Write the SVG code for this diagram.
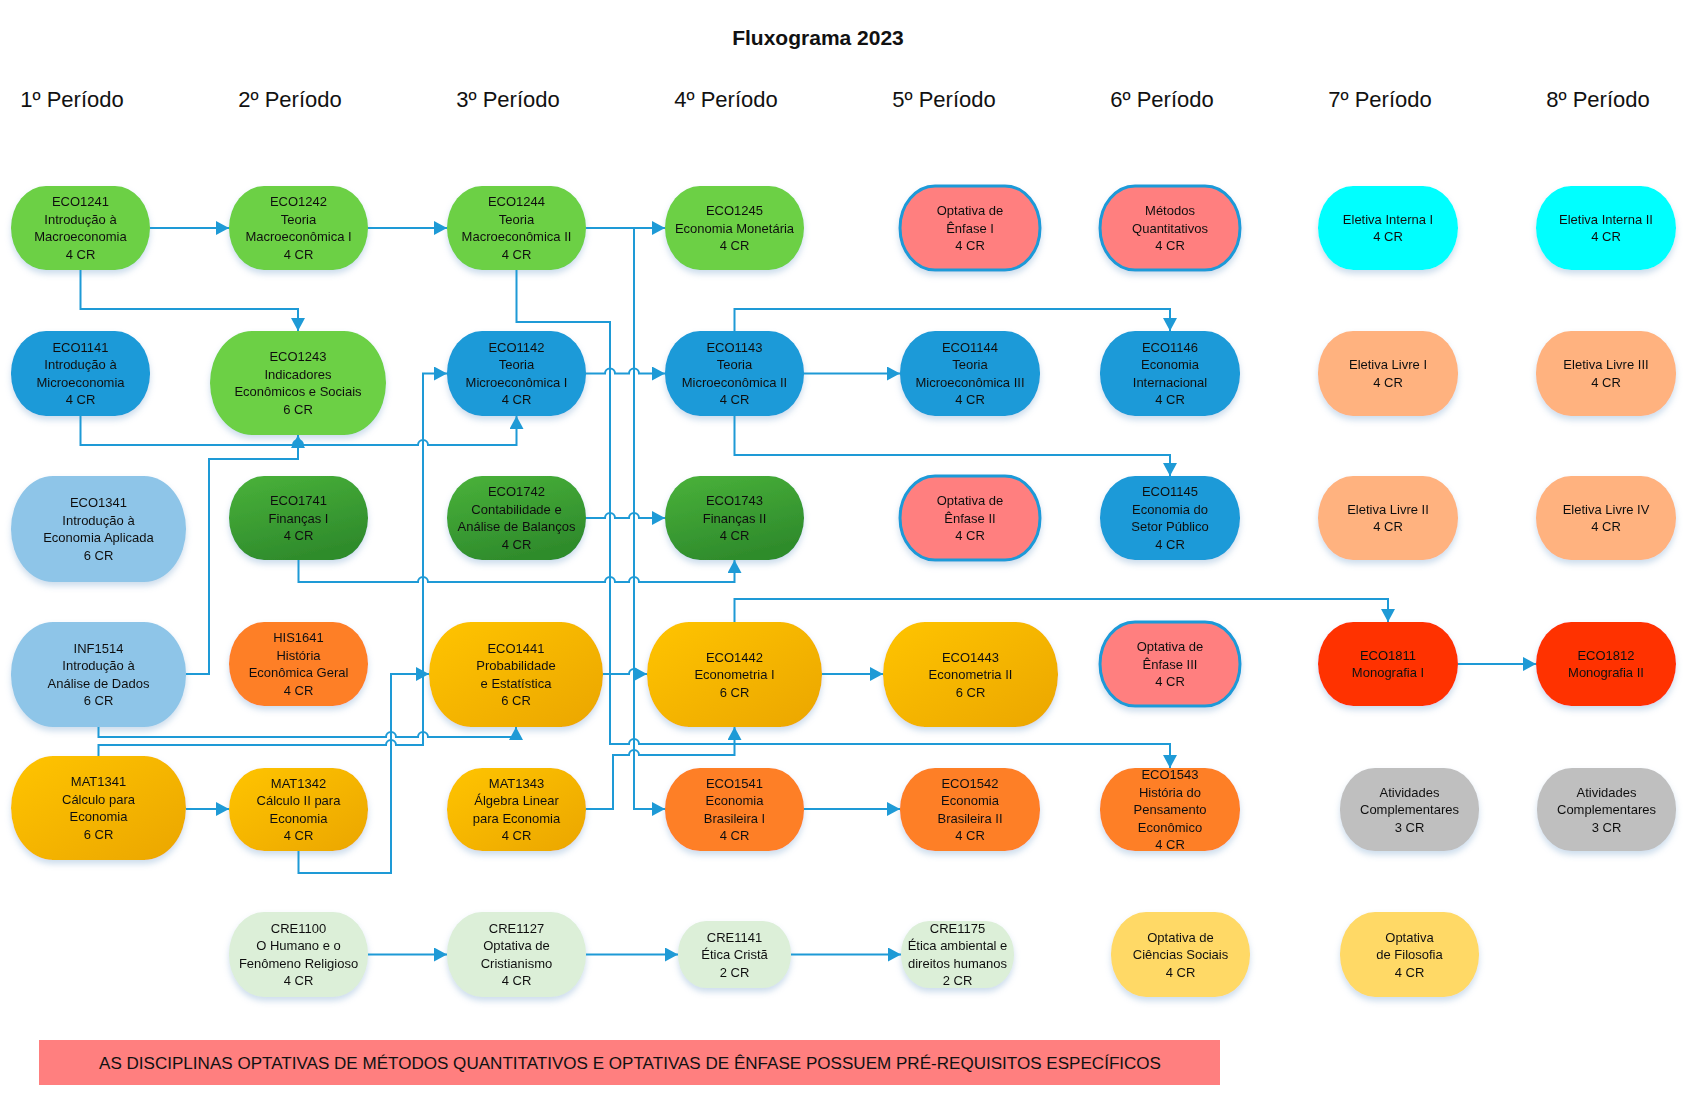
<svg xmlns="http://www.w3.org/2000/svg" width="1693" height="1109" viewBox="0 0 1693 1109">
<defs>
<style>
.t{font-family:"Liberation Sans",Arial,sans-serif;font-size:13px;text-anchor:middle;fill:#111}
.h{font-family:"Liberation Sans",Arial,sans-serif;font-size:22px;text-anchor:middle;fill:#111}
.ttl{font-family:"Liberation Sans",Arial,sans-serif;font-size:21px;font-weight:bold;text-anchor:middle;fill:#111}
.bn{font-family:"Liberation Sans",Arial,sans-serif;font-size:16px;text-anchor:middle;fill:#111}
.c{fill:none;stroke:#1E9AD6;stroke-width:2;marker-end:url(#ar)}
.cn{fill:none;stroke:#1E9AD6;stroke-width:2}
.nd{filter:url(#sh)}
.g1{fill:#6CD044}
.bl{fill:#1A9AD8}
.lb{fill:#8EC5E8}
.dg{fill:url(#gdg)}
.or{fill:#FE7F28}
.gd{fill:url(#ggd)}
.pk{fill:#FF7F7F;stroke:#1A9AD8;stroke-width:3}
.cy{fill:#00FFFF}
.pc{fill:#FFB27F}
.rd{fill:#FF3300}
.gy{fill:#BFBFBF}
.cr{fill:#DCEFD8}
.yl{fill:#FFD966}
</style>
<linearGradient id="ggd" x1="0" y1="0" x2="1" y2="1">
<stop offset="0" stop-color="#FFC400"/><stop offset="1" stop-color="#EBA600"/>
</linearGradient>
<linearGradient id="gdg" x1="0" y1="0" x2="0.4" y2="1">
<stop offset="0" stop-color="#4AB23A"/><stop offset="1" stop-color="#2F8C2C"/>
</linearGradient>
<filter id="sh" x="-20%" y="-20%" width="140%" height="160%">
<feDropShadow dx="0" dy="4" stdDeviation="3" flood-color="#8fb4d6" flood-opacity="0.45"/>
</filter>
<marker id="ar" markerWidth="14" markerHeight="14" refX="13" refY="7" orient="auto" markerUnits="userSpaceOnUse">
<path d="M0,0 L13,7 L0,14 z" fill="#1E9AD6"/>
</marker>
</defs>
<rect width="1693" height="1109" fill="#fff"/>

<text class="ttl" x="818" y="45">Fluxograma 2023</text>
<g id="headers">
<text class="h" x="72" y="107">1º Período</text>
<text class="h" x="290" y="107">2º Período</text>
<text class="h" x="508" y="107">3º Período</text>
<text class="h" x="726" y="107">4º Período</text>
<text class="h" x="944" y="107">5º Período</text>
<text class="h" x="1162" y="107">6º Período</text>
<text class="h" x="1380" y="107">7º Período</text>
<text class="h" x="1598" y="107">8º Período</text>
</g>

<g id="nodes">
<!-- Row 1 -->
<g id="ECO1241" class="nd"><rect class="g1" x="11" y="186" width="139" height="84" rx="35" ry="42"/>
<text class="t"><tspan x="80.5" y="206.3">ECO1241</tspan><tspan x="80.5" y="223.8">Introdução à</tspan><tspan x="80.5" y="241.3">Macroeconomia</tspan><tspan x="80.5" y="258.8">4 CR</tspan></text></g>
<g id="ECO1242" class="nd"><rect class="g1" x="229" y="186" width="139" height="84" rx="35" ry="42"/>
<text class="t"><tspan x="298.5" y="206.3">ECO1242</tspan><tspan x="298.5" y="223.8">Teoria</tspan><tspan x="298.5" y="241.3">Macroeconômica I</tspan><tspan x="298.5" y="258.8">4 CR</tspan></text></g>
<g id="ECO1244" class="nd"><rect class="g1" x="447" y="186" width="139" height="84" rx="35" ry="42"/>
<text class="t"><tspan x="516.5" y="206.3">ECO1244</tspan><tspan x="516.5" y="223.8">Teoria</tspan><tspan x="516.5" y="241.3">Macroeconômica II</tspan><tspan x="516.5" y="258.8">4 CR</tspan></text></g>
<g id="ECO1245" class="nd"><rect class="g1" x="665" y="186" width="139" height="84" rx="35" ry="42"/>
<text class="t"><tspan x="734.5" y="215">ECO1245</tspan><tspan x="734.5" y="232.5">Economia Monetária</tspan><tspan x="734.5" y="250">4 CR</tspan></text></g>
<g id="OPT-ENF1" class="nd"><rect class="pk" x="900" y="186" width="140" height="84" rx="35" ry="42"/>
<text class="t"><tspan x="970" y="215">Optativa de</tspan><tspan x="970" y="232.5">Ênfase I</tspan><tspan x="970" y="250">4 CR</tspan></text></g>
<g id="MET-QUANT" class="nd"><rect class="pk" x="1100" y="186" width="140" height="84" rx="35" ry="42"/>
<text class="t"><tspan x="1170" y="215">Métodos</tspan><tspan x="1170" y="232.5">Quantitativos</tspan><tspan x="1170" y="250">4 CR</tspan></text></g>
<g id="EL-INT1" class="nd"><rect class="cy" x="1318" y="186" width="140" height="84" rx="35" ry="42"/>
<text class="t"><tspan x="1388" y="223.8">Eletiva Interna I</tspan><tspan x="1388" y="241.3">4 CR</tspan></text></g>
<g id="EL-INT2" class="nd"><rect class="cy" x="1536" y="186" width="140" height="84" rx="35" ry="42"/>
<text class="t"><tspan x="1606" y="223.8">Eletiva Interna II</tspan><tspan x="1606" y="241.3">4 CR</tspan></text></g>

<!-- Row 2 -->
<g id="ECO1141" class="nd"><rect class="bl" x="11" y="331" width="139" height="85" rx="35" ry="42"/>
<text class="t"><tspan x="80.5" y="351.8">ECO1141</tspan><tspan x="80.5" y="369.3">Introdução à</tspan><tspan x="80.5" y="386.8">Microeconomia</tspan><tspan x="80.5" y="404.3">4 CR</tspan></text></g>
<g id="ECO1243" class="nd"><rect class="g1" x="210" y="331" width="176" height="104" rx="42" ry="52"/>
<text class="t"><tspan x="298" y="361.3">ECO1243</tspan><tspan x="298" y="378.8">Indicadores</tspan><tspan x="298" y="396.3">Econômicos e Sociais</tspan><tspan x="298" y="413.8">6 CR</tspan></text></g>
<g id="ECO1142" class="nd"><rect class="bl" x="447" y="331" width="139" height="85" rx="35" ry="42"/>
<text class="t"><tspan x="516.5" y="351.8">ECO1142</tspan><tspan x="516.5" y="369.3">Teoria</tspan><tspan x="516.5" y="386.8">Microeconômica I</tspan><tspan x="516.5" y="404.3">4 CR</tspan></text></g>
<g id="ECO1143" class="nd"><rect class="bl" x="665" y="331" width="139" height="85" rx="35" ry="42"/>
<text class="t"><tspan x="734.5" y="351.8">ECO1143</tspan><tspan x="734.5" y="369.3">Teoria</tspan><tspan x="734.5" y="386.8">Microeconômica II</tspan><tspan x="734.5" y="404.3">4 CR</tspan></text></g>
<g id="ECO1144" class="nd"><rect class="bl" x="900" y="331" width="140" height="85" rx="35" ry="42"/>
<text class="t"><tspan x="970" y="351.8">ECO1144</tspan><tspan x="970" y="369.3">Teoria</tspan><tspan x="970" y="386.8">Microeconômica III</tspan><tspan x="970" y="404.3">4 CR</tspan></text></g>
<g id="ECO1146" class="nd"><rect class="bl" x="1100" y="331" width="140" height="85" rx="35" ry="42"/>
<text class="t"><tspan x="1170" y="351.8">ECO1146</tspan><tspan x="1170" y="369.3">Economia</tspan><tspan x="1170" y="386.8">Internacional</tspan><tspan x="1170" y="404.3">4 CR</tspan></text></g>
<g id="EL-LIV1" class="nd"><rect class="pc" x="1318" y="331" width="140" height="85" rx="35" ry="42"/>
<text class="t"><tspan x="1388" y="369.3">Eletiva Livre I</tspan><tspan x="1388" y="386.8">4 CR</tspan></text></g>
<g id="EL-LIV3" class="nd"><rect class="pc" x="1536" y="331" width="140" height="85" rx="35" ry="42"/>
<text class="t"><tspan x="1606" y="369.3">Eletiva Livre III</tspan><tspan x="1606" y="386.8">4 CR</tspan></text></g>

<!-- Row 3 -->
<g id="ECO1341" class="nd"><rect class="lb" x="11" y="476" width="175" height="106" rx="42" ry="53"/>
<text class="t"><tspan x="98.5" y="507.3">ECO1341</tspan><tspan x="98.5" y="524.8">Introdução à</tspan><tspan x="98.5" y="542.3">Economia Aplicada</tspan><tspan x="98.5" y="559.8">6 CR</tspan></text></g>
<g id="ECO1741" class="nd"><rect class="dg" x="229" y="476" width="139" height="84" rx="35" ry="42"/>
<text class="t"><tspan x="298.5" y="505">ECO1741</tspan><tspan x="298.5" y="522.5">Finanças I</tspan><tspan x="298.5" y="540">4 CR</tspan></text></g>
<g id="ECO1742" class="nd"><rect class="dg" x="447" y="476" width="139" height="84" rx="35" ry="42"/>
<text class="t"><tspan x="516.5" y="496.3">ECO1742</tspan><tspan x="516.5" y="513.8">Contabilidade e</tspan><tspan x="516.5" y="531.3">Análise de Balanços</tspan><tspan x="516.5" y="548.8">4 CR</tspan></text></g>
<g id="ECO1743" class="nd"><rect class="dg" x="665" y="476" width="139" height="84" rx="35" ry="42"/>
<text class="t"><tspan x="734.5" y="505">ECO1743</tspan><tspan x="734.5" y="522.5">Finanças II</tspan><tspan x="734.5" y="540">4 CR</tspan></text></g>
<g id="OPT-ENF2" class="nd"><rect class="pk" x="900" y="476" width="140" height="84" rx="35" ry="42"/>
<text class="t"><tspan x="970" y="505">Optativa de</tspan><tspan x="970" y="522.5">Ênfase II</tspan><tspan x="970" y="540">4 CR</tspan></text></g>
<g id="ECO1145" class="nd"><rect class="bl" x="1100" y="476" width="140" height="84" rx="35" ry="42"/>
<text class="t"><tspan x="1170" y="496.3">ECO1145</tspan><tspan x="1170" y="513.8">Economia do</tspan><tspan x="1170" y="531.3">Setor Público</tspan><tspan x="1170" y="548.8">4 CR</tspan></text></g>
<g id="EL-LIV2" class="nd"><rect class="pc" x="1318" y="476" width="140" height="84" rx="35" ry="42"/>
<text class="t"><tspan x="1388" y="513.8">Eletiva Livre II</tspan><tspan x="1388" y="531.3">4 CR</tspan></text></g>
<g id="EL-LIV4" class="nd"><rect class="pc" x="1536" y="476" width="140" height="84" rx="35" ry="42"/>
<text class="t"><tspan x="1606" y="513.8">Eletiva Livre IV</tspan><tspan x="1606" y="531.3">4 CR</tspan></text></g>

<!-- Row 4 -->
<g id="INF1514" class="nd"><rect class="lb" x="11" y="622" width="175" height="105" rx="42" ry="52"/>
<text class="t"><tspan x="98.5" y="652.8">INF1514</tspan><tspan x="98.5" y="670.3">Introdução à</tspan><tspan x="98.5" y="687.8">Análise de Dados</tspan><tspan x="98.5" y="705.3">6 CR</tspan></text></g>
<g id="HIS1641" class="nd"><rect class="or" x="229" y="622" width="139" height="84" rx="35" ry="42"/>
<text class="t"><tspan x="298.5" y="642.3">HIS1641</tspan><tspan x="298.5" y="659.8">História</tspan><tspan x="298.5" y="677.3">Econômica Geral</tspan><tspan x="298.5" y="694.8">4 CR</tspan></text></g>
<g id="ECO1441" class="nd"><rect class="gd" x="429" y="622" width="174" height="105" rx="42" ry="52"/>
<text class="t"><tspan x="516" y="652.8">ECO1441</tspan><tspan x="516" y="670.3">Probabilidade</tspan><tspan x="516" y="687.8">e Estatística</tspan><tspan x="516" y="705.3">6 CR</tspan></text></g>
<g id="ECO1442" class="nd"><rect class="gd" x="647" y="622" width="175" height="105" rx="42" ry="52"/>
<text class="t"><tspan x="734.5" y="661.5">ECO1442</tspan><tspan x="734.5" y="679">Econometria I</tspan><tspan x="734.5" y="696.5">6 CR</tspan></text></g>
<g id="ECO1443" class="nd"><rect class="gd" x="883" y="622" width="175" height="105" rx="42" ry="52"/>
<text class="t"><tspan x="970.5" y="661.5">ECO1443</tspan><tspan x="970.5" y="679">Econometria II</tspan><tspan x="970.5" y="696.5">6 CR</tspan></text></g>
<g id="OPT-ENF3" class="nd"><rect class="pk" x="1100" y="622" width="140" height="84" rx="35" ry="42"/>
<text class="t"><tspan x="1170" y="651">Optativa de</tspan><tspan x="1170" y="668.5">Ênfase III</tspan><tspan x="1170" y="686">4 CR</tspan></text></g>
<g id="ECO1811" class="nd"><rect class="rd" x="1318" y="622" width="140" height="84" rx="35" ry="42"/>
<text class="t"><tspan x="1388" y="659.8">ECO1811</tspan><tspan x="1388" y="677.3">Monografia I</tspan></text></g>
<g id="ECO1812" class="nd"><rect class="rd" x="1536" y="622" width="140" height="84" rx="35" ry="42"/>
<text class="t"><tspan x="1606" y="659.8">ECO1812</tspan><tspan x="1606" y="677.3">Monografia II</tspan></text></g>

<!-- Row 5 -->
<g id="MAT1341" class="nd"><rect class="gd" x="11" y="756" width="175" height="104" rx="42" ry="52"/>
<text class="t"><tspan x="98.5" y="786.3">MAT1341</tspan><tspan x="98.5" y="803.8">Cálculo para</tspan><tspan x="98.5" y="821.3">Economia</tspan><tspan x="98.5" y="838.8">6 CR</tspan></text></g>
<g id="MAT1342" class="nd"><rect class="gd" x="229" y="768" width="139" height="83" rx="35" ry="41"/>
<text class="t"><tspan x="298.5" y="787.8">MAT1342</tspan><tspan x="298.5" y="805.3">Cálculo II para</tspan><tspan x="298.5" y="822.8">Economia</tspan><tspan x="298.5" y="840.3">4 CR</tspan></text></g>
<g id="MAT1343" class="nd"><rect class="gd" x="447" y="768" width="139" height="83" rx="35" ry="41"/>
<text class="t"><tspan x="516.5" y="787.8">MAT1343</tspan><tspan x="516.5" y="805.3">Álgebra Linear</tspan><tspan x="516.5" y="822.8">para Economia</tspan><tspan x="516.5" y="840.3">4 CR</tspan></text></g>
<g id="ECO1541" class="nd"><rect class="or" x="665" y="768" width="139" height="83" rx="35" ry="41"/>
<text class="t"><tspan x="734.5" y="787.8">ECO1541</tspan><tspan x="734.5" y="805.3">Economia</tspan><tspan x="734.5" y="822.8">Brasileira I</tspan><tspan x="734.5" y="840.3">4 CR</tspan></text></g>
<g id="ECO1542" class="nd"><rect class="or" x="900" y="768" width="140" height="83" rx="35" ry="41"/>
<text class="t"><tspan x="970" y="787.8">ECO1542</tspan><tspan x="970" y="805.3">Economia</tspan><tspan x="970" y="822.8">Brasileira II</tspan><tspan x="970" y="840.3">4 CR</tspan></text></g>
<g id="ECO1543" class="nd"><rect class="or" x="1100" y="768" width="140" height="83" rx="35" ry="41"/>
<text class="t"><tspan x="1170" y="779">ECO1543</tspan><tspan x="1170" y="796.5">História do</tspan><tspan x="1170" y="814">Pensamento</tspan><tspan x="1170" y="831.5">Econômico</tspan><tspan x="1170" y="849">4 CR</tspan></text></g>
<g id="ATIV1" class="nd"><rect class="gy" x="1340" y="768" width="139" height="83" rx="35" ry="41"/>
<text class="t"><tspan x="1409.5" y="796.5">Atividades</tspan><tspan x="1409.5" y="814">Complementares</tspan><tspan x="1409.5" y="831.5">3 CR</tspan></text></g>
<g id="ATIV2" class="nd"><rect class="gy" x="1537" y="768" width="139" height="83" rx="35" ry="41"/>
<text class="t"><tspan x="1606.5" y="796.5">Atividades</tspan><tspan x="1606.5" y="814">Complementares</tspan><tspan x="1606.5" y="831.5">3 CR</tspan></text></g>

<!-- Row 6 -->
<g id="CRE1100" class="nd"><rect class="cr" x="229" y="912" width="139" height="85" rx="35" ry="42"/>
<text class="t"><tspan x="298.5" y="932.8">CRE1100</tspan><tspan x="298.5" y="950.3">O Humano e o</tspan><tspan x="298.5" y="967.8">Fenômeno Religioso</tspan><tspan x="298.5" y="985.3">4 CR</tspan></text></g>
<g id="CRE1127" class="nd"><rect class="cr" x="447" y="912" width="139" height="85" rx="35" ry="42"/>
<text class="t"><tspan x="516.5" y="932.8">CRE1127</tspan><tspan x="516.5" y="950.3">Optativa de</tspan><tspan x="516.5" y="967.8">Cristianismo</tspan><tspan x="516.5" y="985.3">4 CR</tspan></text></g>
<g id="CRE1141" class="nd"><rect class="cr" x="678" y="921" width="113" height="67" rx="28" ry="33"/>
<text class="t"><tspan x="734.5" y="941.5">CRE1141</tspan><tspan x="734.5" y="959">Ética Cristã</tspan><tspan x="734.5" y="976.5">2 CR</tspan></text></g>
<g id="CRE1175" class="nd"><rect class="cr" x="901" y="921" width="113" height="67" rx="28" ry="33"/>
<text class="t"><tspan x="957.5" y="932.8">CRE1175</tspan><tspan x="957.5" y="950.3">Ética ambiental e</tspan><tspan x="957.5" y="967.8">direitos humanos</tspan><tspan x="957.5" y="985.3">2 CR</tspan></text></g>
<g id="OPT-CS" class="nd"><rect class="yl" x="1111" y="912" width="139" height="85" rx="35" ry="42"/>
<text class="t"><tspan x="1180.5" y="941.5">Optativa de</tspan><tspan x="1180.5" y="959">Ciências Sociais</tspan><tspan x="1180.5" y="976.5">4 CR</tspan></text></g>
<g id="OPT-FIL" class="nd"><rect class="yl" x="1340" y="912" width="139" height="85" rx="35" ry="42"/>
<text class="t"><tspan x="1409.5" y="941.5">Optativa</tspan><tspan x="1409.5" y="959">de Filosofia</tspan><tspan x="1409.5" y="976.5">4 CR</tspan></text></g>
</g>

<g id="connectors">
<path class="c" d="M150,228 H229"/>
<path class="c" d="M368,228 H447"/>
<path class="c" d="M586,228 H665"/>
<path class="c" d="M634,228 V809 H665"/>
<path class="c" d="M80.5,270 V309 H298 V331"/>
<path class="c" d="M516.5,270 V322 H610 V744 H629 a5,5 0 0 1 10,0 H1170 V768"/>
<path class="c" d="M80.5,416 V445 H293 a5,5 0 0 1 10,0 H418 a5,5 0 0 1 10,0 H516.5 V416"/>
<path class="c" d="M186,674 H209 V459 H298 V435"/>
<path class="c" d="M98.5,756 V745 H386 a5,5 0 0 1 10,0 H423 V373.5 H447"/>
<path class="c" d="M98.5,727 V737 H386 a5,5 0 0 1 10,0 H418 a5,5 0 0 1 10,0 H516 V727"/>
<path class="c" d="M298.5,851 V873 H391 V674 H429"/>
<path class="c" d="M586,373.5 H605 a5,5 0 0 1 10,0 H629 a5,5 0 0 1 10,0 H665"/>
<path class="c" d="M586,518 H605 a5,5 0 0 1 10,0 H629 a5,5 0 0 1 10,0 H665"/>
<path class="c" d="M298.5,560 V582 H418 a5,5 0 0 1 10,0 H605 a5,5 0 0 1 10,0 H629 a5,5 0 0 1 10,0 H734.5 V560"/>
<path class="c" d="M603,674 H629 a5,5 0 0 1 10,0 H647"/>
<path class="c" d="M586,809 H613 V755 H629 a5,5 0 0 1 10,0 H734.5 V727"/>
<path class="c" d="M822,674 H883"/>
<path class="c" d="M734.5,622 V599 H1388 V622"/>
<path class="c" d="M804,373.5 H900"/>
<path class="c" d="M734.5,331 V309 H1170 V331"/>
<path class="c" d="M734.5,416 V455 H1170 V476"/>
<path class="c" d="M186,809 H229"/>
<path class="c" d="M804,809 H900"/>
<path class="c" d="M1458,664 H1536"/>
<path class="c" d="M368,954.5 H447"/>
<path class="c" d="M586,954.5 H678"/>
<path class="c" d="M791,954.5 H901"/>
</g>

<g id="banner">
<rect x="39" y="1040" width="1181" height="45" fill="#FF7F7F"/>
<text class="bn" x="630" y="1069" textLength="1062" lengthAdjust="spacingAndGlyphs">AS  DISCIPLINAS OPTATIVAS DE MÉTODOS QUANTITATIVOS E OPTATIVAS DE ÊNFASE POSSUEM PRÉ-REQUISITOS ESPECÍFICOS</text>
</g>
</svg>
